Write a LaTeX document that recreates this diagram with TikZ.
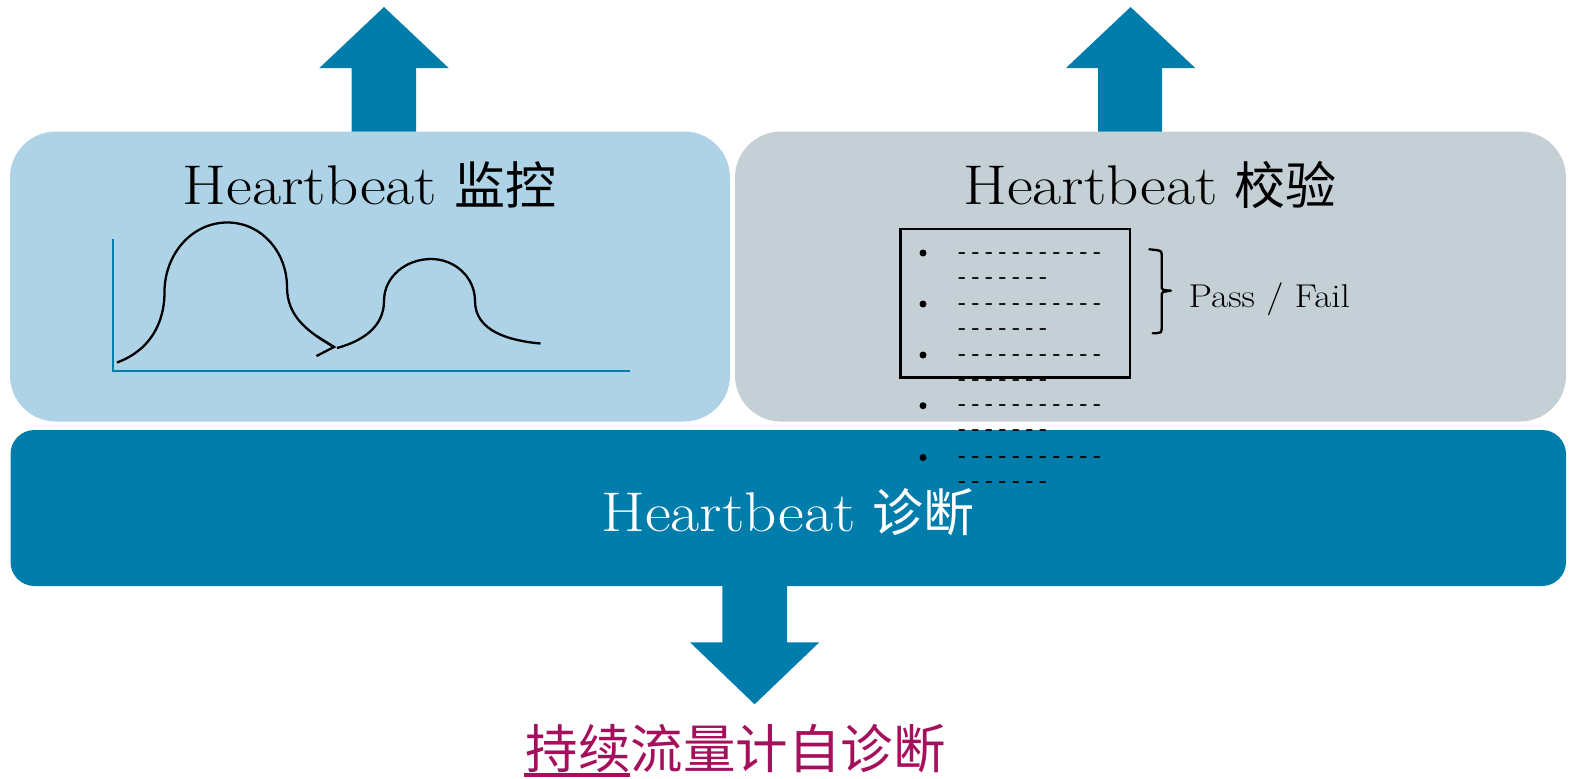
\documentclass[tikz,border=0pt]{standalone}
\usepackage{fontspec}
\usepackage{graphicx}
\newfontfamily\cjk{Noto Sans CJK SC}
\setmonofont{Liberation Mono}
\usetikzlibrary{calc}
\definecolor{dblue}{HTML}{007DAB}
\definecolor{lblue}{HTML}{AED3E6}
\definecolor{lgray}{HTML}{C4CFD6}
\definecolor{mag}{HTML}{A5105D}
\newcommand{\wideword}[1]{\scalebox{1.13}[1]{#1}}
\tikzset{
  panel/.style={draw=none, inner sep=0pt, rounded corners=46pt},
  bar/.style={draw=none, fill=dblue, inner sep=0pt, rounded corners=24pt},
  blockarrow/.style={fill=dblue, draw=none},
  title/.style={inner sep=0pt, anchor=base, font=\fontsize{56}{60}\selectfont},
  axisline/.style={draw=dblue, line width=2pt},
  curve/.style={draw=black, line width=2.3pt},
  dashtext/.style={inner sep=0pt, anchor=base west, text=black, font=\ttfamily\fontsize{22.5}{24}\selectfont},
  bulletdot/.style={fill=black, draw=none, circle, inner sep=0pt, minimum size=7pt},
}
\begin{document}
\begin{tikzpicture}[x=1pt,y=1pt]
\useasboundingbox (0,0) rectangle (1575,-779);
% panels
\node[panel, fill=lblue, minimum width=720pt, minimum height=290pt] (mon) at (370,-276.5) {};
\node[panel, fill=lgray, minimum width=831pt, minimum height=290pt] (chk) at (1150.5,-276.5) {};
\node[bar, minimum width=1555.5pt, minimum height=156pt] (diag) at (788.25,-508) {};
% block arrows
\fill[blockarrow] (351.5,-131.5) -- (351.5,-68.2) -- (319.2,-68.2) -- (384,-7) -- (448.8,-68.2) -- (416,-68.2) -- (416,-131.5) -- cycle;
\fill[blockarrow] (1098,-131.5) -- (1098,-68.2) -- (1065.8,-68.2) -- (1130.6,-7) -- (1195.4,-68.2) -- (1162.2,-68.2) -- (1162.2,-131.5) -- cycle;
\fill[blockarrow] (722.3,-586) -- (722.3,-642.3) -- (690,-642.3) -- (754.6,-704.3) -- (819.3,-642.3) -- (787,-642.3) -- (787,-586) -- cycle;
% titles
\node[title] (montitle) at (369.5,-204) {\wideword{Heartbeat} {\cjk\fontsize{51}{55}\selectfont 监控}};
\node[title] (chktitle) at (1150,-204) {\wideword{Heartbeat} {\cjk\fontsize{51}{55}\selectfont 校验}};
\node[title, text=white] (diagtitle) at (788,-531.7) {\wideword{Heartbeat} {\cjk\fontsize{51}{55}\selectfont 诊断}};
% chart
\coordinate (ytop) at (112.5,-239);
\coordinate (orig) at (112.5,-371);
\coordinate (xend) at (630,-371);
\draw[axisline] (ytop) -- (orig) -- (xend);
\draw[curve] (117,-362.5) to[out=20,in=-90] (164.5,-292) to[out=90,in=180] (227.5,-222.5)
  to[out=0,in=90] (287,-287) to[out=-90,in=150] (334,-347);
\draw[curve] (316.5,-336) -- (334,-347) -- (316.5,-356);
\draw[curve] (337,-348) to[out=15,in=-90] (384,-301) to[out=90,in=180] (431,-259)
  to[out=0,in=90] (475,-301) to[out=-90,in=175] (540.5,-343.5);
% list
\node[draw=black, line width=2.5pt, inner sep=0pt, minimum width=229.5pt, minimum height=148.5pt] (list) at (1015.25,-303.25) {};
\foreach \i/\yy in {0/253,1/304,2/355,3/405.7,4/457.5}{
  \node[bulletdot] (b\i) at (923,-\yy) {};
  \node[dashtext] (da\i) at (955,{-\yy-6}) {-----------};
  \node[dashtext] (db\i) at (955,{-\yy-31}) {-------};
}
% brace
\draw[line width=2.3pt, line cap=round] (1149.3,-249.3) -- (1156,-250) .. controls (1161.7,-251) .. (1161.7,-257) -- (1161.7,-286)
  .. controls (1161.7,-290) .. (1170.7,-290.7);
\draw[line width=2.3pt, line cap=round] (1170.7,-290.7) .. controls (1161.7,-292) .. (1161.7,-296) -- (1161.7,-327)
  .. controls (1161.7,-333) .. (1152.7,-333.3);
\node[inner sep=0pt, anchor=base west, font=\fontsize{33}{36}\selectfont] (pf) at (1188.5,-307.3) {\wideword{Pass / Fail}};
% bottom text
\node[inner sep=0pt, anchor=base west, text=mag, font=\cjk\fontsize{52.5}{56}\selectfont] (bt) at (525.5,-768) {持续流量计自诊断};
\draw[mag, line width=3.3pt] ($(bt.base west)+(-2,-7)$) -- ($(bt.base west)+(104.5,-7)$);
\end{tikzpicture}
\end{document}
